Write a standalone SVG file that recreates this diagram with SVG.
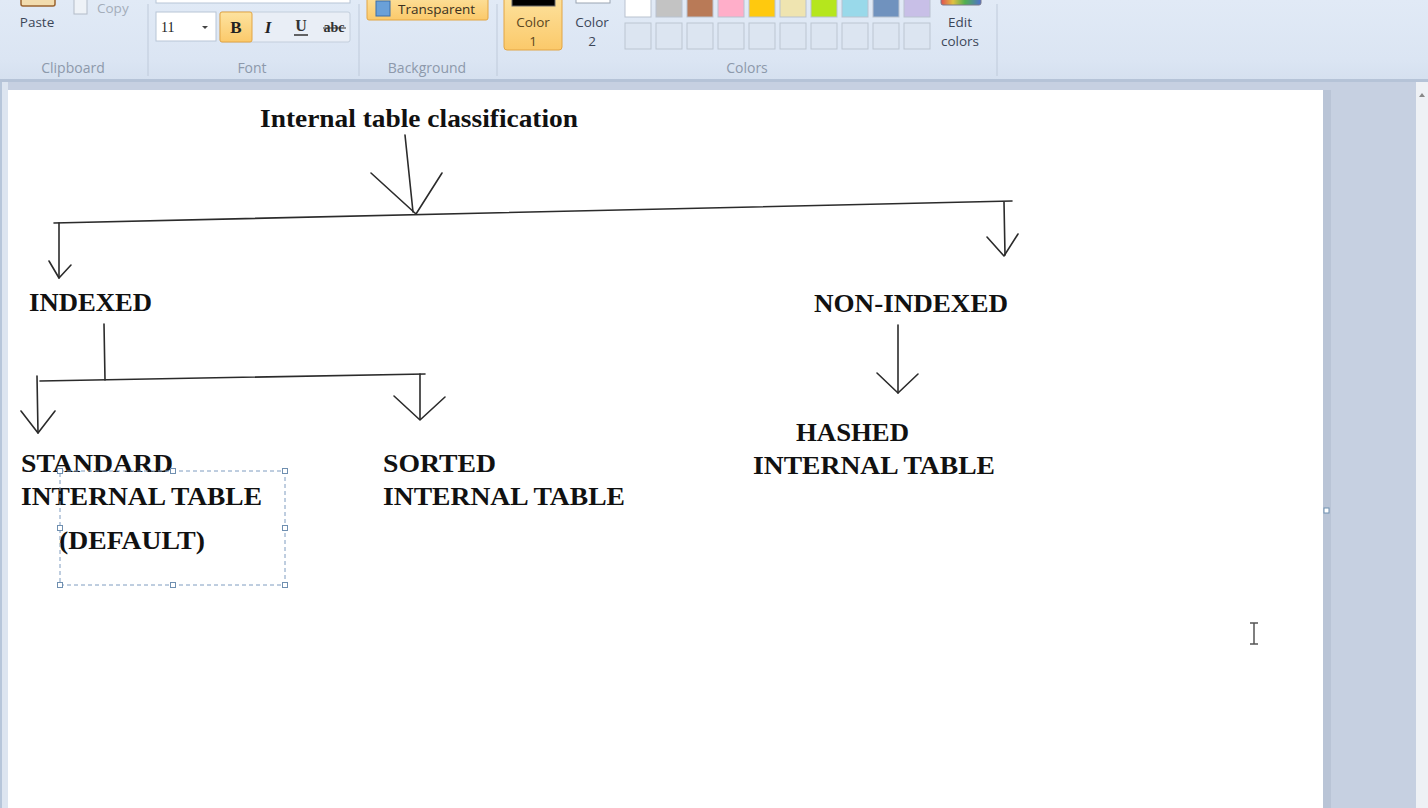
<svg xmlns="http://www.w3.org/2000/svg" width="1428" height="808" viewBox="0 0 1428 808">
<defs>
<linearGradient id="rib" x1="0" y1="0" x2="0" y2="1">
<stop offset="0" stop-color="#e1eaf6"/><stop offset="0.75" stop-color="#dbe5f3"/><stop offset="1" stop-color="#d5e0ef"/>
</linearGradient>
<linearGradient id="org" x1="0" y1="0" x2="0" y2="1">
<stop offset="0" stop-color="#fde3a0"/><stop offset="1" stop-color="#fbc96a"/>
</linearGradient>
<linearGradient id="rainbow" x1="0" y1="0" x2="1" y2="0">
<stop offset="0" stop-color="#e05050"/><stop offset="0.3" stop-color="#e0c040"/><stop offset="0.6" stop-color="#50b050"/><stop offset="1" stop-color="#5070d0"/>
</linearGradient>
<style>
.ui{font-family:"Open Sans","Noto Sans","Liberation Sans",sans-serif;font-size:13.5px;fill:#3c4658}
.grp{font-family:"Open Sans","Noto Sans","Liberation Sans",sans-serif;font-size:14px;fill:#8d99ab}
.sep{stroke:#bfcada;stroke-width:1}
.sw{stroke:#b9c2cf;stroke-width:1}
.empty{fill:#dce5f1;stroke:#bcc5d1;stroke-width:1}
.t{font-family:"Liberation Serif","Times New Roman",serif;font-weight:bold;font-size:26px;fill:#111}
.c{stroke:#2b2b2b;stroke-width:1.6;fill:none;stroke-linecap:round;stroke-linejoin:round}
.h{fill:#fff;stroke:#6f8fb0;stroke-width:1}
</style>
</defs>

<!-- ribbon -->
<g id="ribbon">
<rect x="0" y="0" width="1428" height="80" fill="url(#rib)"/>
<rect x="0" y="79" width="1428" height="3" fill="#b5c3d7"/>
<line class="sep" x1="148" y1="4" x2="148" y2="76"/>
<line class="sep" x1="359" y1="4" x2="359" y2="76"/>
<line class="sep" x1="497" y1="4" x2="497" y2="76"/>
<line class="sep" x1="997" y1="4" x2="997" y2="76"/>
<!-- clipboard -->
<rect x="21" y="-8" width="34" height="14" rx="2" fill="#f2dcae" stroke="#9a6430" stroke-width="1.5"/>
<text class="ui" x="37" y="27" text-anchor="middle">Paste</text>
<rect x="74" y="-4" width="13" height="18" fill="#eef2f7" stroke="#b3bcc8"/>
<text class="ui" x="97" y="13" style="fill:#a4adba">Copy</text>
<text class="grp" x="73" y="73" text-anchor="middle">Clipboard</text>
<!-- font -->
<rect x="156" y="-6" width="194" height="9" fill="#fff" stroke="#b8c5d6"/>
<rect x="156" y="12" width="60" height="29" fill="#fff" stroke="#b8c5d6"/>
<text x="161" y="32" style="font-family:'Liberation Serif',serif;font-size:14px;fill:#222">11</text>
<path d="M202 26 l6 0 l-3 3 z" fill="#444"/>
<rect x="220" y="12" width="130" height="30" rx="2" fill="#e9eef6" stroke="#c3cedc"/>
<rect x="220" y="12" width="32" height="30" rx="2" fill="url(#org)" stroke="#e2a544"/>
<text x="236" y="33" text-anchor="middle" style="font-family:'Liberation Serif',serif;font-weight:bold;font-size:17px;fill:#222">B</text>
<text x="268" y="33" text-anchor="middle" style="font-family:'Liberation Serif',serif;font-style:italic;font-weight:bold;font-size:17px;fill:#222">I</text>
<text x="301" y="31" text-anchor="middle" style="font-family:'Liberation Serif',serif;font-weight:bold;font-size:16px;fill:#333">U</text>
<line x1="294" y1="35" x2="308" y2="35" stroke="#333" stroke-width="1.5"/>
<text x="334" y="32" text-anchor="middle" style="font-family:'Liberation Serif',serif;font-weight:bold;font-size:14px;fill:#333">abc</text>
<line x1="323" y1="28" x2="346" y2="28" stroke="#333" stroke-width="1"/>
<text class="grp" x="252" y="73" text-anchor="middle">Font</text>
<!-- background -->
<rect x="367" y="-6" width="121" height="26" rx="2" fill="url(#org)" stroke="#e2a544"/>
<rect x="376" y="1" width="14" height="15" fill="#6aa0d8" stroke="#3d6ea8"/>
<text class="ui" x="398" y="14" style="fill:#3a3020">Transparent</text>
<text class="grp" x="427" y="73" text-anchor="middle">Background</text>
<!-- colors -->
<rect x="504" y="-6" width="58" height="56" rx="3" fill="url(#org)" stroke="#e2a544"/>
<rect x="512" y="-6" width="43" height="12" fill="#000" stroke="#6b6b6b"/>
<text class="ui" x="533" y="27" text-anchor="middle" style="fill:#5a4520">Color</text>
<text class="ui" x="533" y="46" text-anchor="middle" style="fill:#5a4520">1</text>
<rect x="576" y="-6" width="34" height="9" fill="#fff" stroke="#9aa4b2"/>
<text class="ui" x="592" y="27" text-anchor="middle">Color</text>
<text class="ui" x="592" y="46" text-anchor="middle">2</text>
<rect class="sw" x="625" y="-4" width="26" height="21" fill="#ffffff"/>
<rect class="sw" x="656" y="-4" width="26" height="21" fill="#c3c3c3"/>
<rect class="sw" x="687" y="-4" width="26" height="21" fill="#b97a57"/>
<rect class="sw" x="718" y="-4" width="26" height="21" fill="#ffaec9"/>
<rect class="sw" x="749" y="-4" width="26" height="21" fill="#ffc90e"/>
<rect class="sw" x="780" y="-4" width="26" height="21" fill="#efe4b0"/>
<rect class="sw" x="811" y="-4" width="26" height="21" fill="#b5e61d"/>
<rect class="sw" x="842" y="-4" width="26" height="21" fill="#99d9ea"/>
<rect class="sw" x="873" y="-4" width="26" height="21" fill="#7092be"/>
<rect class="sw" x="904" y="-4" width="26" height="21" fill="#c8bfe7"/>
<rect class="empty" x="625" y="23" width="26" height="26"/>
<rect class="empty" x="656" y="23" width="26" height="26"/>
<rect class="empty" x="687" y="23" width="26" height="26"/>
<rect class="empty" x="718" y="23" width="26" height="26"/>
<rect class="empty" x="749" y="23" width="26" height="26"/>
<rect class="empty" x="780" y="23" width="26" height="26"/>
<rect class="empty" x="811" y="23" width="26" height="26"/>
<rect class="empty" x="842" y="23" width="26" height="26"/>
<rect class="empty" x="873" y="23" width="26" height="26"/>
<rect class="empty" x="904" y="23" width="26" height="26"/>
<rect x="941" y="-6" width="40" height="11" rx="2" fill="url(#rainbow)" stroke="#7a7a8a"/>
<text class="ui" x="960" y="27" text-anchor="middle">Edit</text>
<text class="ui" x="960" y="46" text-anchor="middle">colors</text>
<text class="grp" x="747" y="73" text-anchor="middle">Colors</text>
</g>

<!-- workspace -->
<g id="workspace">
<rect x="0" y="82" width="1428" height="726" fill="#c6d0e1"/>
<rect x="0" y="82" width="8" height="726" fill="#dde5f0"/>
<rect x="0" y="82" width="2" height="726" fill="#b7c6da"/>
<rect x="1323" y="90" width="8" height="718" fill="#b9c4d6"/>
<rect x="1416" y="82" width="12" height="726" fill="#eef1f5"/>
<path d="M1419 97 l3 -4 l3 4 z" fill="#888"/>
<rect x="8" y="90" width="1315" height="718" fill="#ffffff"/>
<rect x="1324" y="508" width="5" height="5" class="h"/>
</g>

<!-- connectors -->
<g id="connectors">
<path class="c" d="M405 135 L413 212"/>
<path class="c" d="M371 173 L416 214 L442 173"/>
<path class="c" d="M54 223 L1012 201"/>
<path class="c" d="M59 223 L59 278"/>
<path class="c" d="M49 261 L59 278 L71 265"/>
<path class="c" d="M1004 202 L1005 255"/>
<path class="c" d="M987 237 L1004 256 L1018 234"/>
<path class="c" d="M104 324 L105 380"/>
<path class="c" d="M40 381 L425 374"/>
<path class="c" d="M37 376 L38 433"/>
<path class="c" d="M21 411 L38 433 L55 411"/>
<path class="c" d="M420 374 L420 419"/>
<path class="c" d="M394 396 L420 420 L445 397"/>
<path class="c" d="M898 325 L898 393"/>
<path class="c" d="M877 373 L898 393 L918 374"/>
</g>

<!-- nodes -->
<g id="node-root"><text class="t" x="260" y="127" textLength="318" lengthAdjust="spacingAndGlyphs">Internal table classification</text></g>
<g id="node-indexed"><text class="t" x="29" y="311" textLength="123" lengthAdjust="spacingAndGlyphs">INDEXED</text></g>
<g id="node-nonindexed"><text class="t" x="814" y="312" textLength="194" lengthAdjust="spacingAndGlyphs">NON-INDEXED</text></g>
<g id="node-standard">
<text class="t" x="21" y="472" textLength="152" lengthAdjust="spacingAndGlyphs">STANDARD</text>
<text class="t" x="21" y="505" textLength="241" lengthAdjust="spacingAndGlyphs">INTERNAL TABLE</text>
<text class="t" x="59" y="549" textLength="146" lengthAdjust="spacingAndGlyphs">(DEFAULT)</text>
</g>
<g id="node-sorted">
<text class="t" x="383" y="472" textLength="113" lengthAdjust="spacingAndGlyphs">SORTED</text>
<text class="t" x="383" y="505" textLength="242" lengthAdjust="spacingAndGlyphs">INTERNAL TABLE</text>
</g>
<g id="node-hashed">
<text class="t" x="796" y="441" textLength="113" lengthAdjust="spacingAndGlyphs">HASHED</text>
<text class="t" x="753" y="474" textLength="242" lengthAdjust="spacingAndGlyphs">INTERNAL TABLE</text>
</g>

<!-- selection box -->
<g id="selection">
<rect x="60" y="471" width="225" height="114" fill="none" stroke="#7f9cc0" stroke-width="1" stroke-dasharray="4 3"/>
<rect class="h" x="57.5" y="468.5" width="5" height="5"/>
<rect class="h" x="170.5" y="468.5" width="5" height="5"/>
<rect class="h" x="282.5" y="468.5" width="5" height="5"/>
<rect class="h" x="57.5" y="525.5" width="5" height="5"/>
<rect class="h" x="282.5" y="525.5" width="5" height="5"/>
<rect class="h" x="57.5" y="582.5" width="5" height="5"/>
<rect class="h" x="170.5" y="582.5" width="5" height="5"/>
<rect class="h" x="282.5" y="582.5" width="5" height="5"/>
</g>

<!-- text cursor -->
<g id="cursor" stroke="#555" stroke-width="1.5" fill="none">
<path d="M1250 623 L1258 623 M1254 623 L1254 644 M1250 644 L1258 644"/>
</g>
</svg>
